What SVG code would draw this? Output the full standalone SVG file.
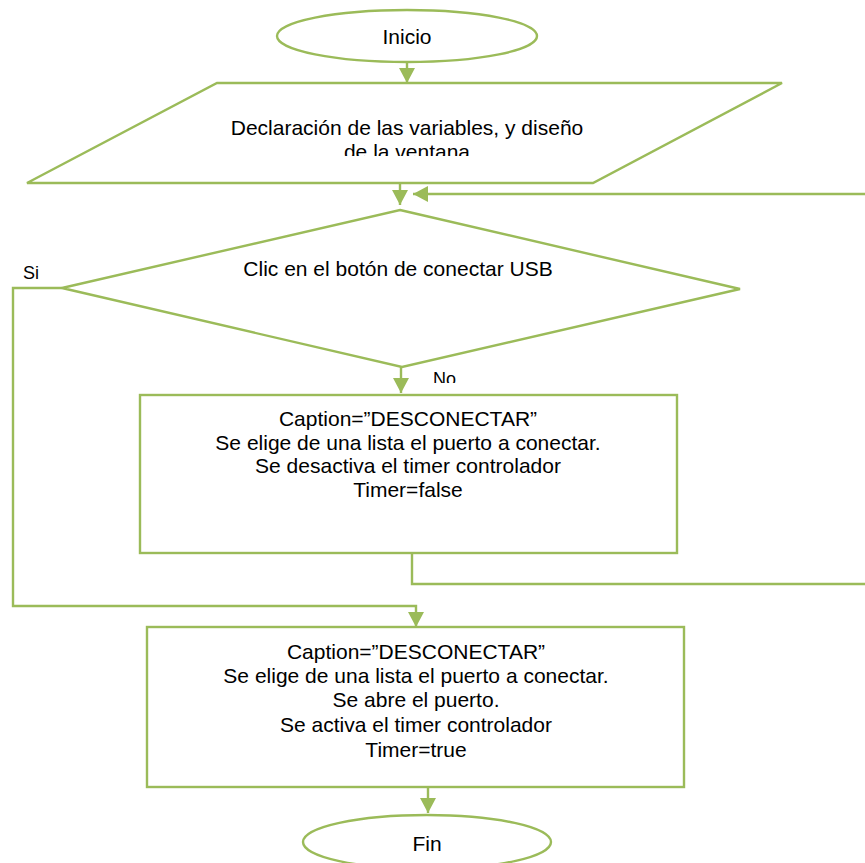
<svg xmlns="http://www.w3.org/2000/svg" width="865" height="863" viewBox="0 0 865 863">
<style>
.s{fill:#ffffff;stroke:#9BBB59;stroke-width:2.4}
.c{fill:none;stroke:#9BBB59;stroke-width:2.4}
.t{font-family:"Liberation Sans",Arial,sans-serif;font-size:21px;fill:#000000;text-anchor:middle}
.l{font-family:"Liberation Sans",Arial,sans-serif;font-size:18px;fill:#000000}
</style>
<defs>
<marker id="ah" markerUnits="userSpaceOnUse" markerWidth="15" markerHeight="16" refX="15" refY="8" orient="auto">
<path d="M0,0 L15,8 L0,16 z" fill="#9BBB59"/>
</marker>
<clipPath id="cp1"><rect x="0" y="0" width="865" height="156"/></clipPath>
<clipPath id="cpNo"><rect x="420" y="360" width="60" height="23"/></clipPath>
<clipPath id="cpSi"><rect x="10" y="255" width="50" height="24"/></clipPath>
</defs>
<rect x="0" y="0" width="865" height="863" fill="#ffffff"/>
<g id="connectors">
<path class="c" d="M407,62 V83" marker-end="url(#ah)"/>
<path class="c" d="M400,183 V205" marker-end="url(#ah)"/>
<path class="c" d="M412,553 V584 H880 V194 H413" marker-end="url(#ah)"/>
<path class="c" d="M401,367 V393" marker-end="url(#ah)"/>
<path class="c" d="M62,288 H13 V606 H416 V627" marker-end="url(#ah)"/>
<path class="c" d="M428,787 V813" marker-end="url(#ah)"/>
</g>
<g id="inicio">
<ellipse class="s" cx="407" cy="36" rx="130" ry="26"/>
<text class="t" x="407" y="44">Inicio</text>
</g>
<g id="declaracion">
<polygon class="s" points="217,83 782,83 593,183 27,183"/>
<g clip-path="url(#cp1)">
<text class="t" x="407" y="135">Declaración de las variables, y diseño</text>
<text class="t" x="407" y="159">de la ventana</text>
</g>
</g>
<g id="decision">
<polygon class="s" points="400,210 740,289 402,367 62,288"/>
<text class="t" x="398" y="276">Clic en el botón de conectar USB</text>
</g>
<g id="labels">
<text class="l" x="23" y="279" clip-path="url(#cpSi)">Si</text>
<text class="l" x="433" y="385" clip-path="url(#cpNo)">No</text>
</g>
<g id="box-no">
<rect class="s" x="140" y="395" width="537" height="158"/>
<text class="t" x="408" y="426">Caption=”DESCONECTAR”</text>
<text class="t" x="408" y="450">Se elige de una lista el puerto a conectar.</text>
<text class="t" x="408" y="473">Se desactiva el timer controlador</text>
<text class="t" x="408" y="497">Timer=false</text>
</g>
<g id="box-si">
<rect class="s" x="147" y="627" width="537" height="160"/>
<text class="t" x="416" y="659">Caption=”DESCONECTAR”</text>
<text class="t" x="416" y="683">Se elige de una lista el puerto a conectar.</text>
<text class="t" x="416" y="707">Se abre el puerto.</text>
<text class="t" x="416" y="732">Se activa el timer controlador</text>
<text class="t" x="416" y="757">Timer=true</text>
</g>
<g id="fin">
<ellipse class="s" cx="427" cy="842" rx="124" ry="27"/>
<text class="t" x="427" y="851">Fin</text>
</g>
</svg>
